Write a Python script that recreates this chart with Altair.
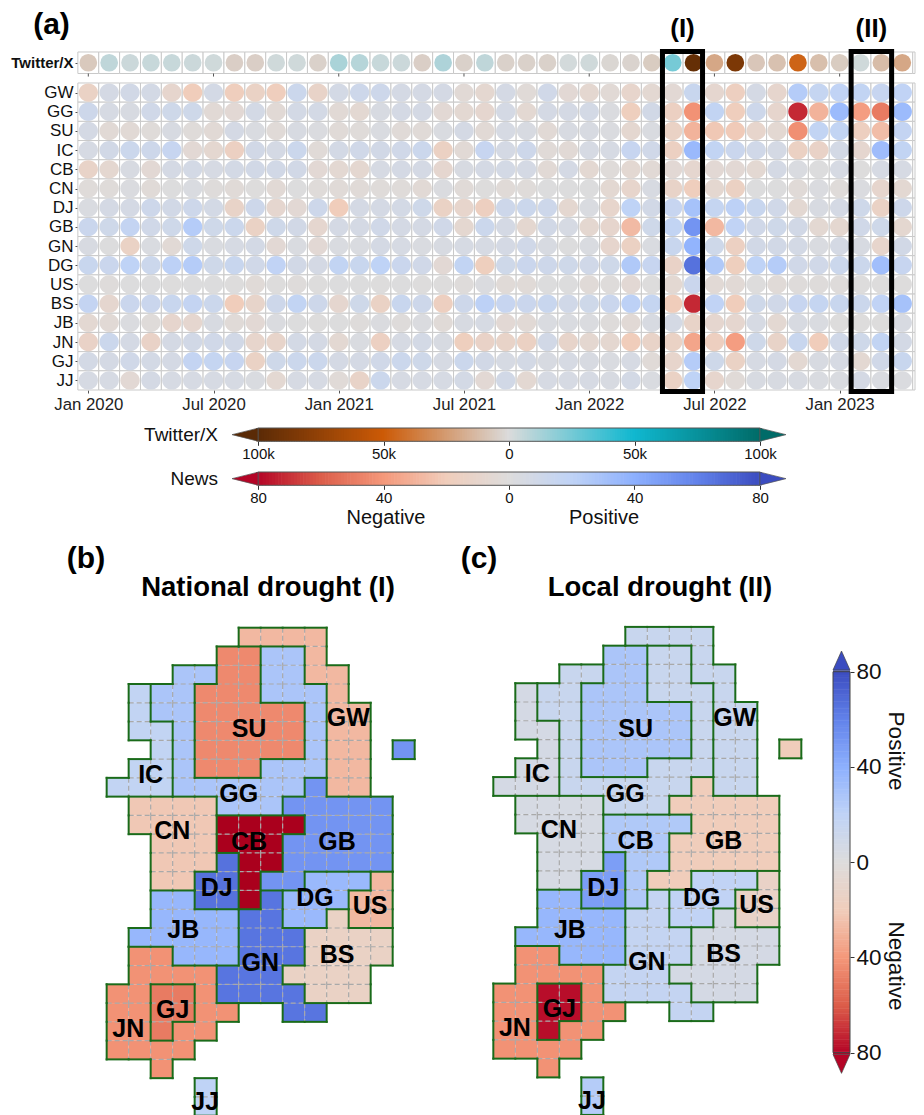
import altair as alt
import pandas as pd

FONT = "Liberation Sans"
TICK_MONTHS = [0, 6, 12, 18, 24, 30, 36]
TICK_LABELS = ["Jan 2020", "Jul 2020", "Jan 2021", "Jul 2021", "Jan 2022", "Jul 2022", "Jan 2023"]
REGIONS = ["GW", "GG", "SU", "IC", "CB", "CN", "DJ", "GB", "GN", "DG", "US", "BS", "JB", "JN", "GJ", "JJ"]

TWITTER = [-7, 7, 4, 5, 5, 4, 3, -5, -5, 3, 3, -4, 12, 9, 5, 4, -5, 11, -4, 7, -4, -4, -4, 2, 3, -2, -3, -6,
           25, -95, -20, -85, -8, -10, -46, -11, -6, 3, -12, -20, -5]
NEWS = {
    "GW": [-14, 6, 8, 7, -9, -20, 7, -19, -14, -19, 12, -12, 7, 11, 11, 6, 6, 6, -4, -7, 6, -3, 9, -5, -7, -4, -10, -6,
           -5, 14, -8, -17, 6, -9, 24, 16, 19, 18, 15, 19, 10],
    "GG": [11, 5, 4, 9, 10, 10, -4, -5, 7, -4, 7, 7, -4, -6, 4, 6, 6, -5, -6, -8, 6, -6, 6, 6, 7, 2, -18, 8,
           -16, -42, 18, -19, 11, -9, -72, -30, 34, -38, -50, 34, 20],
    "SU": [6, -4, -4, -2, 4, -2, -4, 6, 3, -3, 4, 2, -3, -2, 3, -3, -3, 3, 6, -4, 5, 4, -4, 4, 4, 2, -7, 3,
           -14, -30, -22, -21, -10, -6, -43, 18, 18, -17, -26, 17, 8],
    "IC": [5, 8, 12, 11, 15, -5, -7, -16, 8, 6, 12, -3, 7, 9, 8, 9, 12, -15, -4, 15, 6, 11, -3, -4, 5, 5, 15, 9,
           -16, 35, 18, 13, 9, 6, -15, -13, 7, -8, 33, 18, 5],
    "CB": [-12, -7, 4, -5, 6, 7, 5, 7, 8, 8, 8, -5, -6, -7, 5, 6, 6, -8, 4, 6, 7, 6, -4, 6, -6, -2, -6, -4,
           -5, -8, -5, -5, -6, 6, 3, 1, 5, 0, 5, 5, 5],
    "CN": [-2, -2, 2, -3, 1, 3, -1, -3, 0, -4, 1, -2, -3, -3, -2, -2, -4, 2, -3, 0, -3, -2, 1, 1, 1, -6, -10, 4,
           -12, -19, -7, -15, 1, 1, -3, 2, -2, 2, -9, -6, -3],
    "DJ": [3, 6, 6, 11, 8, 11, 7, -12, 11, -8, -5, 11, -20, 6, 6, 7, 10, -14, -10, -17, 11, 12, 11, -7, 3, -10, 20, 8,
           15, 30, 16, 21, 14, 9, -6, 4, 6, 10, -14, 11, 6],
    "GB": [13, 10, 17, 9, 10, 24, 10, 12, -14, 10, 8, -8, 6, 6, 9, 6, 6, 9, -7, 12, 6, -7, 8, 5, -7, -9, -27, 10,
           18, 52, -28, 19, 9, 10, 8, -6, -7, 9, 10, -7, -5],
    "GN": [4, 1, -14, 3, -4, 10, 3, 5, 7, -5, 3, -5, 3, 3, 6, 5, 3, 4, 5, 5, 6, 9, 4, 1, 3, -9, -15, 3,
           14, 38, 10, -16, 8, 8, 7, 3, 6, 4, -10, 8, 5],
    "DG": [14, 13, 20, 12, 21, 24, 10, 14, 9, 19, 8, 6, 18, 14, 20, 13, 9, -5, 18, -18, 10, 13, 11, 10, 9, 10, 26, 15,
           -13, 66, 26, -18, 20, 24, 9, 9, 12, 12, 32, 15, 9],
    "US": [1, -1, 1, 1, 0, 1, 1, 0, -3, 0, -1, 0, 1, 1, 0, 1, 0, 0, -1, 2, -3, -3, 1, 1, -3, -1, -5, 0,
           -6, 13, -4, -4, 0, -3, -1, -1, -1, 0, 0, 0, -1],
    "BS": [17, -8, 13, 13, 14, 17, 12, -20, -11, 11, 18, 11, -8, 10, -14, 14, 11, -17, 11, 21, 15, 13, 14, 9, 10, 13, 21, 16,
           -20, -72, 19, -20, 10, 9, 15, 16, 14, 12, 19, 30, 15],
    "JB": [-6, -4, 2, -2, -9, -8, 4, -3, -5, 2, 1, 0, 1, -1, 2, -1, 2, -3, 4, 5, -5, -4, 3, 3, 2, -1, -4, 4,
           6, -12, -8, -8, 5, -6, 4, 3, 0, 0, 0, 4, 2],
    "JN": [-13, 12, 6, -13, 6, 8, 9, 8, -10, -11, 7, 6, -6, 3, -16, 5, 7, 4, -18, -13, -12, -15, 8, -11, -7, -7, -20, -12,
           -14, -35, -17, -38, 10, -12, 14, -20, 9, 10, 18, 7, -17],
    "GJ": [7, 6, 9, 7, 6, 17, 16, 15, -14, 10, 12, 12, 6, 6, 9, 12, 10, 5, 12, 8, 5, 7, 4, 5, 4, 3, 5, -3,
           -10, 24, 10, -14, 5, 6, -6, 4, 5, -6, 9, 14, 5],
    "JJ": [5, 5, -5, 6, 5, 5, 5, 5, 3, -6, 5, 5, -3, -12, 12, 5, 5, 5, 7, -5, 8, -6, 5, 5, 5, 4, 7, 3,
           -14, 20, -9, -3, 4, 4, 4, 3, 3, 6, 3, 2, 2],
}
BOXES = [("(I)", 27.51, 29.43), ("(II)", 36.55, 38.49)]

# Map: region -> (row, first column, last column) spans on the tile grid
MAP_SPANS = {
    "GW": [(0, 6, 9), (1, 9, 9), (2, 9, 10), (3, 10, 10), (4, 10, 11), (5, 10, 11), (6, 10, 11), (7, 10, 11), (8, 10, 11)],
    "SU": [(1, 5, 6), (2, 5, 6), (3, 4, 6), (4, 4, 8), (5, 4, 8), (6, 4, 8), (7, 4, 6)],
    "GG": [(1, 7, 8), (2, 3, 4), (2, 7, 8), (3, 2, 3), (3, 7, 9), (4, 2, 3), (4, 9, 9), (5, 3, 3), (5, 9, 9), (6, 3, 3),
           (6, 9, 9), (7, 3, 3), (7, 7, 9), (8, 3, 8), (9, 5, 7)],
    "IC": [(3, 1, 1), (4, 1, 1), (5, 1, 2), (6, 2, 2), (7, 1, 2), (8, 0, 2)],
    "GB": [(6, 13, 13), (8, 9, 9), (9, 8, 12), (10, 9, 12), (11, 8, 12), (12, 8, 12), (13, 7, 8)],
    "CN": [(9, 1, 4), (10, 1, 4), (11, 2, 4), (12, 2, 4), (13, 2, 3)],
    "CB": [(10, 5, 8), (11, 5, 7), (12, 6, 7), (13, 6, 6), (14, 6, 6)],
    "DJ": [(12, 5, 5), (13, 4, 5), (14, 4, 5)],
    "DG": [(13, 9, 11), (14, 8, 10), (15, 8, 9)],
    "US": [(13, 12, 12), (14, 11, 12), (15, 11, 12)],
    "JB": [(14, 2, 3), (15, 2, 5), (16, 1, 5), (17, 3, 5)],
    "GN": [(14, 7, 7), (15, 6, 7), (16, 6, 8), (17, 6, 8), (18, 5, 7), (19, 5, 8), (20, 8, 9)],
    "BS": [(15, 10, 10), (16, 9, 12), (17, 9, 12), (18, 8, 11), (19, 9, 11)],
    "JN": [(17, 1, 2), (18, 1, 4), (19, 0, 1), (19, 4, 4), (20, 0, 1), (20, 4, 5), (21, 0, 1), (21, 3, 4), (22, 0, 3), (23, 2, 2)],
    "GJ": [(19, 2, 3), (20, 2, 3), (21, 2, 2)],
    "JJ": [(24, 4, 4), (25, 4, 4)],
}
LABEL_POS = {"SU": (6.47, 5.42), "GW": (10.98, 4.83), "IC": (2.0, 7.85), "GG": (6.0, 8.88), "CN": (2.98, 10.83),
             "CB": (6.47, 11.4), "GB": (10.47, 11.4), "DJ": (5.0, 13.89), "DG": (9.47, 14.42), "US": (11.97, 14.81),
             "JB": (3.48, 16.13), "BS": (10.47, 17.44), "GN": (6.98, 17.85), "GJ": (3.0, 20.35), "JN": (0.98, 21.37),
             "JJ": (4.48, 25.25)}
NATIONAL = {"SU": -45, "GW": -28, "GG": 28, "IC": 18, "CN": -22, "CB": -85, "GB": 52, "DJ": 66, "JB": 36, "GN": 65,
            "DG": 35, "US": -28, "BS": -14, "JN": -42, "GJ": -50, "JJ": 20}
LOCAL = {"SU": 28, "GW": 14, "GG": 14, "IC": 6, "CN": 5, "CB": 26, "GB": -20, "DJ": 48, "JB": 36, "GN": 17,
         "DG": 19, "US": -13, "BS": 6, "JN": -42, "GJ": -78, "JJ": 24}

NEWS_SCALE = alt.Scale(domain=[-80, -60, -40, -20, 0, 20, 40, 60, 80], interpolate="rgb",
                       range=["#b40426", "#dc5d4a", "#f4987a", "#f0cdbb", "#dddcdc", "#bfd3f6", "#8db0fe", "#6282ea", "#3b4cc0"])
TW_SCALE = alt.Scale(domain=[-100, -50, 0, 50, 100], interpolate="rgb",
                     range=["#5a2a06", "#cc5a06", "#dbdbdb", "#10b8d0", "#006b68"])

# ---------- panel (a)
PANEL_W = 837
X_DOM = [-0.4935, 39.61]
Y_DOM = [-3.908, 16]
xs = alt.Scale(domain=X_DOM, nice=False, zero=False)
ys = alt.Scale(domain=Y_DOM, nice=False, zero=False, reverse=True)
TW_TOP, TW_BOT, TW_MID = -1.615, -0.495, -1.055

cells = []
for c, v in enumerate(TWITTER):
    cells.append(dict(c=c, c0=c - .5, c1=min(c + .5, X_DOM[1]), r=TW_MID, r0=TW_TOP, r1=TW_BOT, tw=v))
news_rows = []
for i, reg in enumerate(REGIONS):
    for c, v in enumerate(NEWS[reg]):
        news_rows.append(dict(c=c, c0=c - .5, c1=min(c + .5, X_DOM[1]), r=i + .5, r0=i, r1=i + 1, v=v))
tw_df = pd.DataFrame(cells)
news_df = pd.DataFrame(news_rows)
grid_df = pd.concat([tw_df[["c0", "c1", "r0", "r1"]], news_df[["c0", "c1", "r0", "r1"]]])
LAST = len(TWITTER) - 1

names = "[" + ",".join(f"'{n}'" for n in REGIONS) + "]"
ylab = f"datum.value<0 ? 'Twitter/X' : {names}[floor(datum.value)]"
xlab = "[" + ",".join(f"'{n}'" for n in TICK_LABELS) + "][datum.value/6]"

AX = alt.Axis(values=TICK_MONTHS, labelExpr=xlab, title=None, grid=False, domain=False,
              tickSize=3, tickColor="#555", labelColor="#222", labelFontSize=16.8, labelPadding=3,
              labelOverlap=False, labelFlush=False, minExtent=35.2, maxExtent=35.2)
AY = alt.Axis(values=[TW_MID] + [i + .5 for i in range(16)], labelExpr=ylab, title=None, grid=False,
              domain=False, tickSize=3, tickColor="#555", labelColor="#111", labelPadding=2,
              labelFontSize=alt.expr("datum.value<0 ? 15 : 17"),
              labelFontWeight=alt.expr("datum.value<0 ? 'bold' : 'normal'"),
              labelOverlap=False, minExtent=70, maxExtent=70)
def hx(f):
    return alt.X(f, scale=xs, axis=AX)
def hy(f):
    return alt.Y(f, scale=ys, axis=AY)

grid = alt.Chart(grid_df).mark_rect(fill="white", stroke="#c9c9c9", strokeWidth=1).encode(
    x=hx("c0:Q"), x2="c1:Q", y=hy("r0:Q"), y2="r1:Q")
ELL = "M-1,0A1,0.95 0 1,1 1,0A1,0.95 0 1,1 -1,0Z"
def pts(df, shape, size, enc):
    return alt.Chart(df).mark_point(shape=shape, filled=True, size=size, opacity=1).encode(x=hx("c:Q"), y=hy("r:Q"), **enc)
tw_enc0 = dict(fill=alt.Fill("tw:Q", scale=TW_SCALE, legend=None))
nw_enc0 = dict(color=alt.Color("v:Q", scale=NEWS_SCALE, legend=None))
tw_pts = pts(tw_df[tw_df.c < LAST], "circle", 314, tw_enc0)
news_pts = pts(news_df[news_df.c < LAST], ELL, 372, nw_enc0)
tick_df = pd.DataFrame({"c": TICK_MONTHS, "a": [TW_BOT] * 7, "b": [TW_BOT + .16] * 7})
top_ticks = alt.Chart(tick_df).mark_rule(color="#555", strokeWidth=1).encode(x=hx("c:Q"), y=hy("a:Q"), y2="b:Q")
box_df = pd.DataFrame({"name": [b[0] for b in BOXES], "a": [b[1] for b in BOXES], "b": [b[2] for b in BOXES],
                       "t": [-1.64] * 2, "u": [16.08] * 2, "m": [(b[1] + b[2]) / 2 for b in BOXES]})
boxes = alt.Chart(box_df).mark_rect(fill=None, stroke="black", strokeWidth=5).encode(
    x=hx("a:Q"), x2="b:Q", y=hy("t:Q"), y2="u:Q")
box_txt = alt.Chart(box_df).mark_text(fontSize=26, fontWeight="bold", color="black").encode(
    x=hx("m:Q"), y=alt.value(21), text="name:N")
a_txt = alt.Chart(pd.DataFrame({"t": ["(a)"]})).mark_text(fontSize=30, fontWeight="bold", color="black").encode(
    x=alt.value(-26.5), y=alt.value(16.5), text="t:N")
heat = alt.layer(grid, tw_pts, news_pts, top_ticks, boxes, box_txt, a_txt).properties(width=PANEL_W, height=382)

# ---------- horizontal colour bars
P = 3.1375
def hbar(vals, k, field_enc, tick_vals, lab_expr, extent, name, extra=None):
    left = -80 - 180 / P
    right = 80 + 155 / P
    sc = alt.Scale(domain=[left * k, right * k], nice=False, zero=False)
    ax = alt.Axis(values=tick_vals, labelExpr=lab_expr, title=None, grid=False, domain=False,
                  tickSize=4, tickColor="#333", labelColor="#111", labelFontSize=15, labelPadding=1,
                  labelOverlap=False, labelFlush=False, minExtent=extent, maxExtent=extent)
    bx = lambda f: alt.X(f, scale=sc, axis=ax)
    ramp = pd.DataFrame({"v": vals, "a": [v - .6 * k for v in vals], "b": [v + .6 * k for v in vals]})
    body = alt.Chart(ramp).mark_rect().encode(x=bx("a:Q"), x2="b:Q", **field_enc("v:Q"))
    frame = alt.Chart(pd.DataFrame({"a": [-80 * k], "b": [80 * k]})).mark_rect(fill=None, stroke="#555", strokeWidth=1).encode(
        x=bx("a:Q"), x2="b:Q")
    end = 84.14 * k
    tri = []
    for pos, val, path in [(-end, -80 * k, "M1,-0.5L-1,0L1,0.5Z"), (end, 80 * k, "M-1,-0.5L1,0L-1,0.5Z")]:
        tri.append(alt.Chart(pd.DataFrame({"p": [pos], "v": [val]})).mark_point(
            shape=path, filled=True, size=676, opacity=1, stroke="#555", strokeWidth=.7).encode(
            x=bx("p:Q"), y=alt.value(6.65), **field_enc("v:Q")))
    lab = alt.Chart(pd.DataFrame({"t": [name]})).mark_text(fontSize=19, align="right", color="#111").encode(
        x=alt.value(140), y=alt.value(7), text="t:N")
    parts = [body, frame] + tri + [lab]
    if extra:
        parts += extra
    return alt.layer(*parts).properties(width=PANEL_W, height=13.3)

tw_enc = lambda f: dict(fill=alt.Fill(f, scale=TW_SCALE, legend=None))
news_enc = lambda f: dict(color=alt.Color(f, scale=NEWS_SCALE, legend=None))
bar_text = [alt.Chart(pd.DataFrame({"t": [t]})).mark_text(fontSize=20, color="#111").encode(
    x=alt.value(xp), y=alt.value(46), text="t:N") for t, xp in [("Negative", 308), ("Positive", 526)]]
bar_tw = hbar(list(range(-100, 101)), 1.25, tw_enc, [-100, -50, 0, 50, 100],
              "datum.value==0 ? '0' : abs(datum.value)+'k'", 28.2, "Twitter/X")
bar_news = hbar(list(range(-80, 81)), 1.0, news_enc, [-80, -40, 0, 40, 80], "''+abs(datum.value)", 58, "News", bar_text)

# ---------- maps
owner = {}
for reg, spans in MAP_SPANS.items():
    for r, c0, c1 in spans:
        for c in range(c0, c1 + 1):
            owner[(r, c)] = reg
edges_in, edges_out = [], []
for (r, c), reg in owner.items():
    for dr, dc, seg in [(0, 1, (c + 1, r, c + 1, r + 1)), (1, 0, (c, r + 1, c + 1, r + 1)),
                        (0, -1, (c, r, c, r + 1)), (-1, 0, (c, r, c + 1, r))]:
        other = owner.get((r + dr, c + dc))
        if other == reg:
            if dr + dc > 0:
                edges_in.append(seg)
        elif other is None or dr + dc > 0:
            edges_out.append(seg)
cols = ["x", "y", "x2", "y2"]
in_df = pd.DataFrame(edges_in, columns=cols)
out_df = pd.DataFrame(edges_out, columns=cols)

def region_map(values, xdom, ydom, w, title, tag, tag_x):
    df = pd.DataFrame([dict(c0=c, c1=c + 1, r0=r, r1=r + 1, v=values[reg]) for (r, c), reg in owner.items()])
    sx = alt.Scale(domain=xdom, nice=False, zero=False)
    sy = alt.Scale(domain=ydom, nice=False, zero=False, reverse=True)
    tiles = alt.Chart(df).mark_rect().encode(
        x=alt.X("c0:Q", scale=sx, axis=None), x2="c1:Q", y=alt.Y("r0:Q", scale=sy, axis=None), y2="r1:Q",
        color=alt.Color("v:Q", scale=NEWS_SCALE, legend=None))
    def rules(d, **kw):
        return alt.Chart(d).mark_rule(**kw).encode(
            x=alt.X("x:Q", scale=sx, axis=None), y=alt.Y("y:Q", scale=sy, axis=None), x2="x2:Q", y2="y2:Q")
    inner = rules(in_df, color="#a9a9a9", strokeWidth=1.2, strokeDash=[5, 3])
    outer = rules(out_df, color="#1a6b1a", strokeWidth=2, strokeCap="square")
    lab_df = pd.DataFrame([dict(t=k, c=p[0], r=p[1]) for k, p in LABEL_POS.items()])
    labels = alt.Chart(lab_df).mark_text(fontSize=25, fontWeight="bold", color="black").encode(
        x=alt.X("c:Q", scale=sx, axis=None), y=alt.Y("r:Q", scale=sy, axis=None), text="t:N")
    head = alt.Chart(pd.DataFrame({"t": [title]})).mark_text(fontSize=27.5, fontWeight="bold", color="black").encode(
        x=alt.value(190), y=alt.value(42), text="t:N")
    tg = alt.Chart(pd.DataFrame({"t": [tag]})).mark_text(fontSize=30, fontWeight="bold", color="black").encode(
        x=alt.value(tag_x), y=alt.value(13), text="t:N")
    return alt.layer(tiles, inner, outer, labels, head, tg).properties(width=w, height=562)

map_b = region_map(NATIONAL, [-1.303, 16.515], [-4.353, 25.59], 392, "National drought (I)", "(b)", 8)
map_c = region_map(LOCAL, [-1.06, 15.44], [-4.31, 25.63], 363, "Local drought (II)", "(c)", 9)

# ---------- vertical colour bar
vs = alt.Scale(domain=[-89.8, 132.8], nice=False, zero=False)
VAX = alt.Axis(orient="right", values=[-80, -40, 0, 40, 80], labelExpr="''+abs(datum.value)", title=None,
               grid=False, domain=False, tickSize=4, tickColor="#333", labelColor="#111",
               labelFontSize=22.5, labelPadding=2, labelOverlap=False)
vramp = pd.DataFrame({"v": list(range(-80, 81))})
vramp["a"] = vramp.v - .6
vramp["b"] = vramp.v + .6
vbody = alt.Chart(vramp).mark_rect().encode(
    x=alt.value(0), x2=alt.value(17), y=alt.Y("a:Q", scale=vs, axis=VAX),
    y2="b:Q", color=alt.Color("v:Q", scale=NEWS_SCALE, legend=None))
vframe = alt.Chart(pd.DataFrame({"a": [-80], "b": [80]})).mark_rect(fill=None, stroke="#444", strokeWidth=1).encode(
    x=alt.value(0), x2=alt.value(17), y=alt.Y("a:Q", scale=vs, axis=VAX), y2="b:Q")
vtri = [alt.Chart(pd.DataFrame({"p": [p], "v": [val]})).mark_point(
    shape=path, filled=True, size=361, opacity=1, stroke="#444", strokeWidth=.7).encode(
    x=alt.value(8.5), y=alt.Y("p:Q", scale=vs, axis=VAX), color=alt.Color("v:Q", scale=NEWS_SCALE, legend=None))
    for p, val, path in [(84.7, 80, "M-0.895,1L0,-1L0.895,1Z"), (-84.7, -80, "M-0.895,-1L0,1L0.895,-1Z")]]
vtxt = [alt.Chart(pd.DataFrame({"t": [t]})).mark_text(fontSize=22.5, angle=90, color="#111").encode(
    x=alt.value(63), y=alt.value(yp), text="t:N") for t, yp in [("Positive", 205), ("Negative", 420)]]
vbar = alt.layer(vbody, vframe, *vtri, *vtxt).properties(width=17, height=530)

maps = alt.hconcat(map_b, map_c, vbar, spacing=0, bounds="flush")
chart = alt.vconcat(heat, bar_tw, bar_news, maps, spacing=0).properties(padding=0).configure_view(stroke=None).configure_axis(
    labelFont=FONT).configure_text(font=FONT)
chart.save("out.html", embed_options={"renderer": "svg", "actions": False})
